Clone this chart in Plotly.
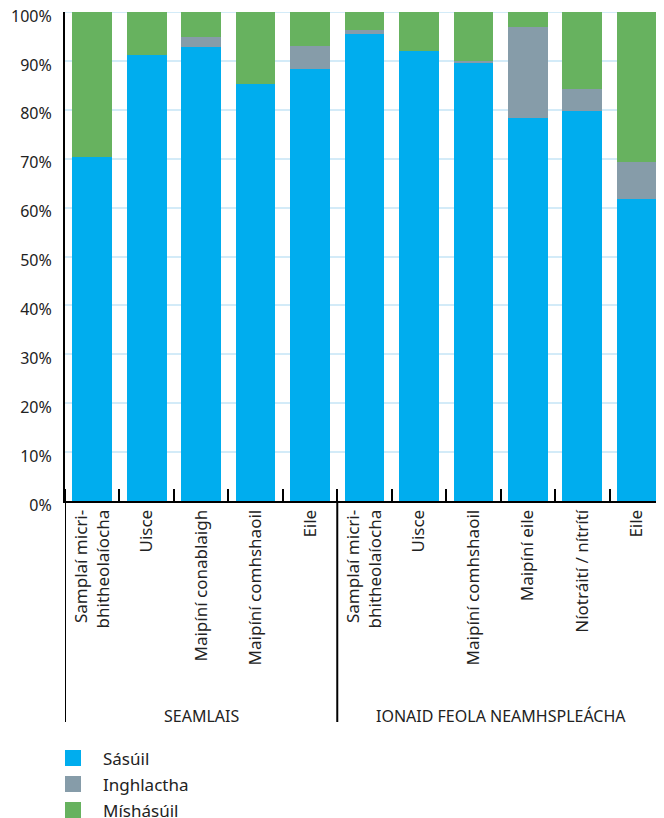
import plotly.graph_objects as go

categories = [
    "Samplaí micri-<br>bhitheolaíocha", "Uisce", "Maipíní conablaigh", "Maipíní comhshaoil", "Eile",
    "Samplaí micri-<br>bhitheolaíocha", "Uisce", "Maipíní comhshaoil", "Maipíní eile", "Níotráití / nítrítí", "Eile",
]
groups = ["SEAMLAIS", "IONAID FEOLA NEAMHSPLEÁCHA"]
group_sizes = [5, 6]

sasuil = [70.3, 91.3, 92.9, 85.2, 88.4, 95.4, 92.1, 89.6, 78.3, 79.8, 61.7]
inghlactha = [0.0, 0.0, 2.0, 0.0, 4.6, 0.9, 0.0, 0.4, 18.7, 4.5, 7.6]
mishasuil = [29.7, 8.7, 5.1, 14.8, 7.0, 3.7, 7.9, 10.0, 3.0, 15.7, 30.7]

series_names = ["Sásúil", "Inghlactha", "Míshásúil"]
colors = ["#00adee", "#869ca9", "#67b25f"]
y_ticks = [0, 10, 20, 30, 40, 50, 60, 70, 80, 90, 100]
y_tick_labels = [f"{v}%" for v in y_ticks]

FONT = "Noto Sans"
TXT = "#222222"
GRID = "#d3ebf8"

# figure geometry (page body adds an 8px offset)
W, H = 656, 810
ML, MR, MT, MB = 57, 0, 4, 317
PW = W - ML - MR
PH = H - MT - MB


def px_x(fx):
    return (fx - ML) / PW


def px_y(fy):
    return (H - MB - fy) / PH


xs = list(range(len(categories)))
fig = go.Figure()
for name, vals, col in zip(series_names, [sasuil, inghlactha, mishasuil], colors):
    fig.add_trace(go.Bar(x=xs, y=vals, name=name, marker=dict(color=col, line=dict(width=0)),
                         showlegend=False))

shapes = []
annotations = []

# top gridline (plotly omits the grid line at the range edge)
shapes.append(dict(type="line", xref="paper", yref="y", x0=0, x1=1, y0=y_ticks[-1], y1=y_ticks[-1],
                   line=dict(color=GRID, width=2), layer="below"))

sep_bottom = px_y(714)
bounds = [-0.5]
acc = -0.5
for s in group_sizes[:-1]:
    acc += s
    bounds.append(acc)
for b in bounds:
    shapes.append(dict(type="line", xref="x", yref="paper", x0=b, x1=b, y0=0, y1=sep_bottom,
                       line=dict(color="black", width=2)))

start = 0
for g, s in zip(groups, group_sizes):
    center = start + (s - 1) / 2
    annotations.append(dict(text=g, x=center, xref="x", y=px_y(708), yref="paper", showarrow=False,
                            xanchor="center", yanchor="middle",
                            font=dict(family=FONT, size=16, color=TXT)))
    start += s

# legend (drawn manually for exact placement)
leg_y = [750, 776, 802]
for name, col, cy in zip(series_names, colors, leg_y):
    shapes.append(dict(type="rect", xref="paper", yref="paper",
                       x0=px_x(57), x1=px_x(73), y0=px_y(cy - 8), y1=px_y(cy + 8),
                       fillcolor=col, line=dict(width=0)))
    annotations.append(dict(text=name, x=px_x(93), y=px_y(cy), xref="paper", yref="paper",
                            showarrow=False, xanchor="left", yanchor="middle",
                            font=dict(family=FONT, size=17, color=TXT)))

fig.update_layout(
    width=W, height=H,
    margin=dict(l=ML, r=MR, t=MT, b=MB, autoexpand=False),
    paper_bgcolor="white", plot_bgcolor="white",
    barmode="stack", bargap=0.27, showlegend=False,
    font=dict(family=FONT, color=TXT),
    shapes=shapes, annotations=annotations,
    xaxis=dict(range=[-0.5, len(categories) - 0.5], tickmode="array", tickvals=xs, ticktext=categories,
               tickangle=-90, showgrid=False, zeroline=False, showline=True, linecolor="black", linewidth=2,
               ticks="", automargin=False, tickfont=dict(family=FONT, size=17, color=TXT),
               minor=dict(tickmode="linear", tick0=0.5, dtick=1, ticks="inside", ticklen=12,
                          tickwidth=2, tickcolor="black", showgrid=False)),
    yaxis=dict(range=[0, 100], tickmode="array", tickvals=y_ticks, ticktext=y_tick_labels,
               showgrid=True, gridcolor=GRID, gridwidth=2, zeroline=False,
               showline=True, linecolor="black", linewidth=2, ticks="outside", ticklen=8,
               tickcolor="rgba(0,0,0,0)", automargin=False, ticklabeloverflow="allow",
               ticklabelshift=4,
               tickfont=dict(family=FONT, size=16, color=TXT)),
)

fig.write_html("out.html")
